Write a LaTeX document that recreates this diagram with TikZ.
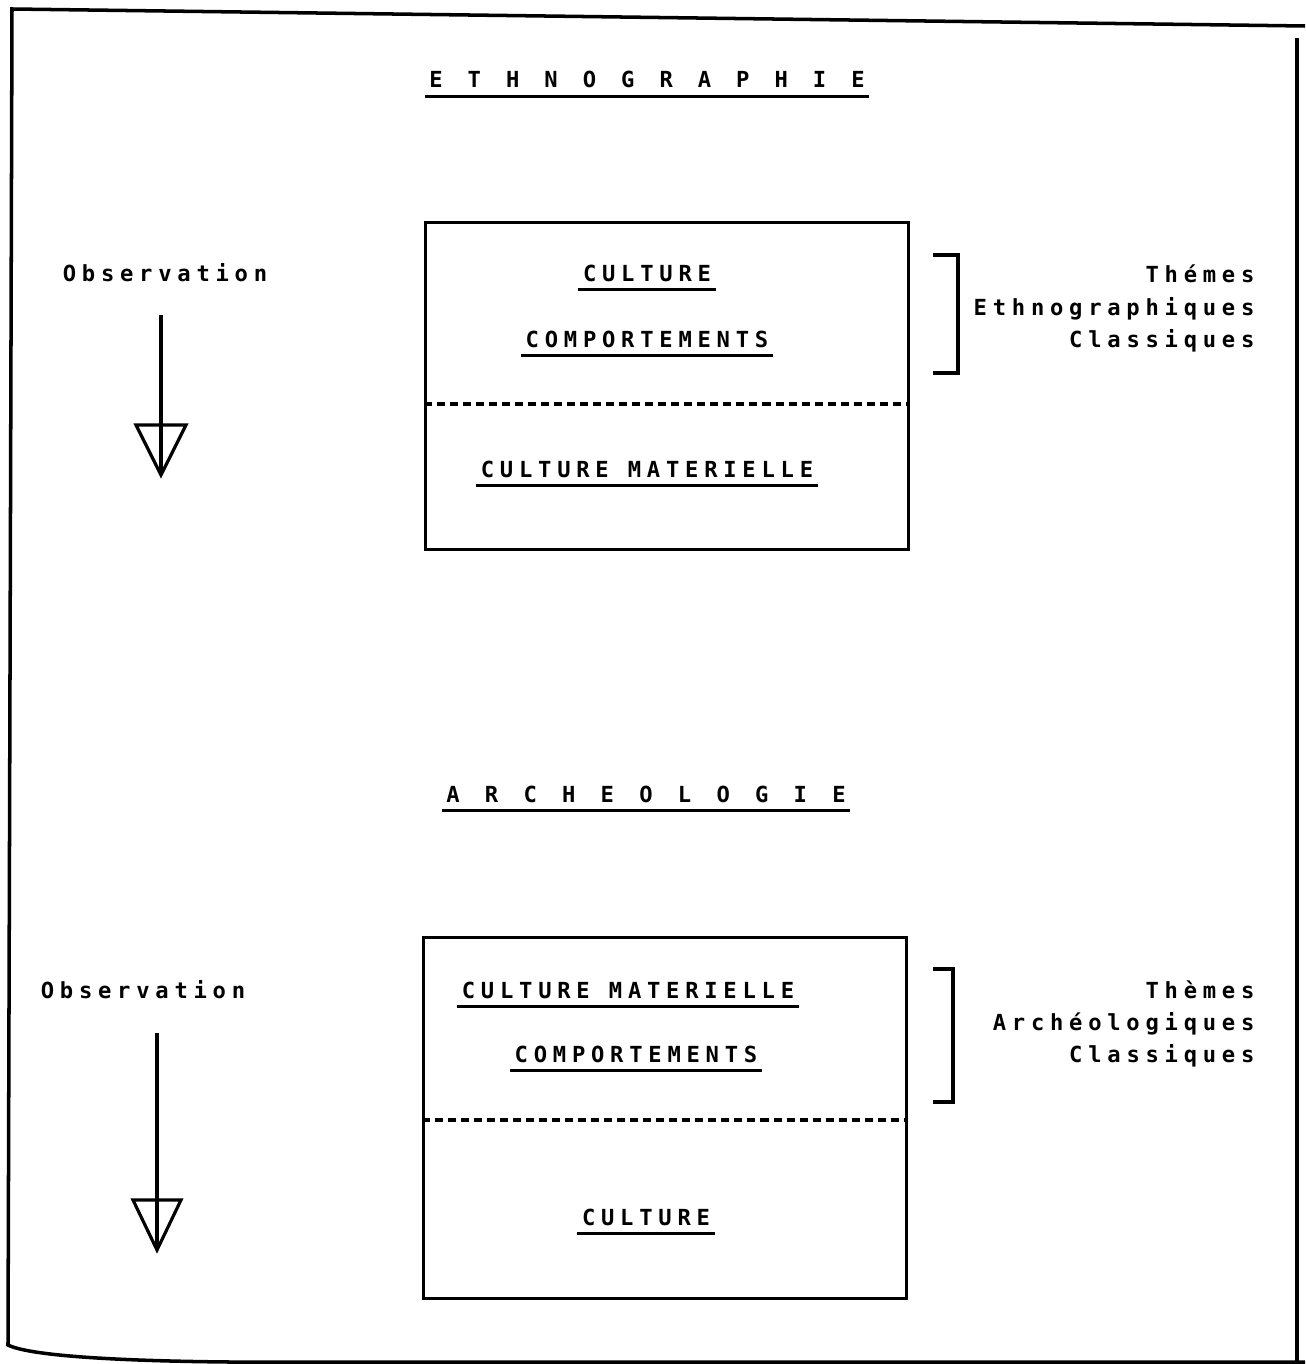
\documentclass[tikz,border=0pt]{standalone}
\usepackage{fontspec}
\newfontfamily\plotfont[LetterSpace=26]{DejaVu Sans Mono}
\usetikzlibrary{positioning}

\begin{document}
\begin{tikzpicture}[x=0.01cm, y=-0.01cm, line width=0.9pt,
        every node/.style = {font=\plotfont\bfseries\fontsize{6.3}{8}\selectfont},
        word/.style = {inner sep=0pt, text height=0.16cm, text depth=0pt},
        uword/.style = {word, inner xsep=0.03cm, inner ysep=0.07cm,
            append after command={(\tikzlastnode.south west) edge (\tikzlastnode.south east)}},
        panel/.style = {draw, inner sep=0pt, minimum width=4.82cm}]

        \useasboundingbox (0,0) rectangle (1305,1364);

        % page edge
        \draw[line width=1pt] (1305,26) -- (12,9) -- (8,1345)
            .. controls (30,1356) and (120,1361) .. (230,1362) -- (1305,1362);
        \draw (1297,38) -- (1297,1364);

        % ethnographie
        \node[uword] (ethno) at (647,80) {\makebox[4.35cm][s]{E\hfill T\hfill H\hfill N\hfill O\hfill G\hfill R\hfill A\hfill P\hfill H\hfill I\hfill E}};

        \node[panel, minimum height=3.26cm] (box1) at (667,386) {};
        \draw[dashed, dash pattern=on 0.08cm off 0.05cm] (box1.west |- 0,404) -- (box1.east |- 0,404);

        \node[uword] (cult1) at (647,273) {CULTURE};
        \node[uword] (comp1) at (647,339) {COMPORTEMENTS};
        \node[uword] (mat1) at (647,469) {CULTURE MATERIELLE};

        \node[word] (obs1) at (165,273) {Observation};
        \coordinate (top1) at (161,315);
        \coordinate (tip1) at (161,475);
        \draw (top1) -- (tip1);
        \draw (tip1) -- ++(-25,-50) -- ++(50,0) -- cycle;

        \draw (933,255) -- (958,255) -- (958,373) -- (933,373);
        \node[word, anchor=east] (th1) at (1256,274) {Thémes};
        \node[word, below=0.14cm of th1.south east, anchor=north east] (th2) {Ethnographiques};
        \node[word, below=0.13cm of th2.south east, anchor=north east] (th3) {Classiques};

        % archeologie
        \node[uword] (archeo) at (646,794) {\makebox[3.99cm][s]{A\hfill R\hfill C\hfill H\hfill E\hfill O\hfill L\hfill O\hfill G\hfill I\hfill E}};

        \node[panel, minimum height=3.6cm] (box2) at (665,1118) {};
        \draw[dashed, dash pattern=on 0.08cm off 0.05cm] (box2.west |- 0,1120) -- (box2.east |- 0,1120);

        \node[uword] (mat2) at (628,990) {CULTURE MATERIELLE};
        \node[uword] (comp2) at (636,1054) {COMPORTEMENTS};
        \node[uword] (cult2) at (646,1217) {CULTURE};

        \node[word] (obs2) at (143,990) {Observation};
        \coordinate (top2) at (157,1033);
        \coordinate (tip2) at (157,1250);
        \draw (top2) -- (tip2);
        \draw (tip2) -- ++(-24,-50) -- ++(48,0) -- cycle;

        \draw (933,969) -- (953,969) -- (953,1102) -- (933,1102);
        \node[word, anchor=east] (th4) at (1256,990) {Thèmes};
        \node[word, below=0.13cm of th4.south east, anchor=north east] (th5) {Archéologiques};
        \node[word, below=0.13cm of th5.south east, anchor=north east] (th6) {Classiques};

\end{tikzpicture}
\end{document}
